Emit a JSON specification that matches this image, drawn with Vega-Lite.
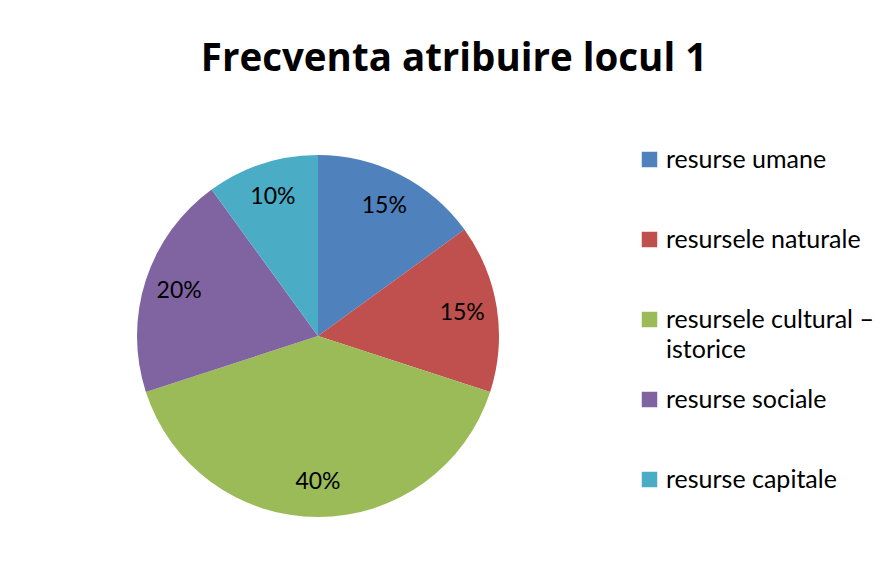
{
  "$schema": "https://vega.github.io/schema/vega-lite/v6.json",
  "autosize": "none",
  "width": 362,
  "height": 362,
  "padding": {"left": 137, "top": 155, "right": 390, "bottom": 49},
  "background": "white",
  "title": {
    "text": "Frecventa atribuire locul 1",
    "font": "Open Sans",
    "fontSize": 38.5,
    "fontWeight": "bold",
    "color": "black",
    "anchor": "middle",
    "frame": "group",
    "baseline": "alphabetic",
    "offset": 46,
    "dx": 136
  },
  "data": {
    "values": [
      {"cat": "resurse umane", "value": 0.15, "idx": 1},
      {"cat": "resursele naturale", "value": 0.15, "idx": 2},
      {"cat": "resursele cultural – istorice", "value": 0.40, "idx": 3},
      {"cat": "resurse sociale", "value": 0.20, "idx": 4},
      {"cat": "\u00a0\u00a0resurse capitale", "value": 0.10, "idx": 5}
    ]
  },
  "encoding": {
    "theta": {"field": "value", "type": "quantitative", "stack": true},
    "order": {"field": "idx", "type": "quantitative"}
  },
  "layer": [
    {
      "mark": {"type": "arc", "stroke": null},
      "encoding": {
        "color": {
          "field": "cat",
          "type": "nominal",
          "sort": null,
          "scale": {
            "domain": ["resurse umane", "resursele naturale", "resursele cultural – istorice", "resurse sociale", "\u00a0\u00a0resurse capitale"],
            "range": ["#4F81BD", "#C0504D", "#9BBB59", "#8064A2", "#4BACC6"]
          },
          "legend": {
            "title": null,
            "orient": "right",
            "offset": 146,
            "padding": -8,
            "symbolType": "square",
            "symbolSize": 240,
            "symbolStrokeWidth": 0,
            "labelFont": "Lato",
            "labelFontSize": 25,
            "labelColor": "black",
            "labelOffset": 4,
            "labelLimit": 400,
            "gridAlign": "all",
            "rowPadding": 24,
            "labelExpr": "datum.label == 'resursele cultural – istorice' ? ['resursele cultural –', 'istorice'] : datum.label"
          }
        }
      }
    },
    {
      "mark": {"type": "text", "radius": 146, "font": "Lato", "fontSize": 23, "color": "black"},
      "encoding": {
        "text": {"field": "value", "type": "quantitative", "format": ".0%"}
      }
    }
  ],
  "config": {
    "view": {"stroke": null},
    "style": {"guide-label": {"lineHeight": 30}}
  }
}
